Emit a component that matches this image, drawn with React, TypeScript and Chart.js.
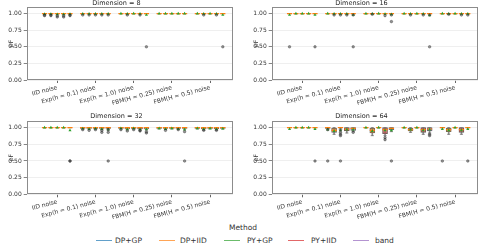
import React, { useEffect, useRef } from "react";
import { Chart, registerables } from "chart.js";
Chart.register(...registerables);

const categories = [
  "IID noise",
  "Exp(h = 0.1) noise",
  "Exp(h = 1.0) noise",
  "FBM(H = 0.25) noise",
  "FBM(H = 0.5) noise",
];
const methods = ["DP+GP", "DP+IID", "PY+GP", "PY+IID", "band"];
const methodColors = ["#1f77b4", "#ff7f0e", "#2ca02c", "#d62728", "#9467bd"];
const yTicks = [0, 0.25, 0.5, 0.75, 1.0];

// rows = methods, columns = categories
const ones = [
  [1, 1, 1, 1, 1],
  [1, 1, 1, 1, 1],
  [1, 1, 1, 1, 1],
  [1, 1, 1, 1, 1],
  [1, 1, 1, 1, 1],
];

// Dimension = 8
const dim8Mean = [
  [0.993, 0.997, 1, 1, 1],
  [0.993, 0.996, 0.997, 1, 0.997],
  [0.99, 0.997, 1, 1, 1],
  [0.99, 0.997, 0.997, 1, 0.997],
  [0.993, 0.997, 0.98, 1, 0.98],
];
const dim8Fliers = [
  [0, 0, 0.97], [0, 0, 0.98], [0, 1, 0.97], [0, 1, 0.98], [0, 2, 0.97], [0, 2, 0.95],
  [0, 3, 0.97], [0, 3, 0.95], [0, 4, 0.97], [0, 4, 0.98],
  [1, 0, 0.98], [1, 1, 0.98], [1, 2, 0.98], [1, 3, 0.98], [1, 4, 0.98],
  [2, 1, 0.98], [2, 3, 0.98], [2, 4, 0.5],
  [4, 1, 0.98], [4, 3, 0.98], [4, 4, 0.5],
];

// Dimension = 16
const dim16Mean = [
  [0.98, 1, 1, 1, 1],
  [1, 0.997, 0.997, 0.997, 0.998],
  [1, 0.997, 1, 1, 1],
  [1, 0.997, 0.995, 0.997, 0.997],
  [0.98, 0.98, 0.99, 0.975, 0.996],
];
const dim16Fliers = [
  [0, 0, 0.5], [0, 4, 0.5],
  [1, 1, 0.98], [1, 2, 0.98], [1, 3, 0.98], [1, 4, 0.98], [1, 4, 0.5],
  [2, 1, 0.99], [2, 3, 0.97], [2, 4, 0.98], [2, 4, 0.88],
  [3, 1, 0.98], [3, 3, 0.98], [3, 4, 0.98], [3, 4, 0.5],
  [4, 1, 0.99], [4, 3, 0.98], [4, 4, 0.98],
];

// Dimension = 32
const dim32Q1 = [
  [1, 0.99, 0.99, 0.99, 0.99],
  [1, 0.99, 0.98, 0.99, 0.98],
  [1, 0.99, 0.99, 0.99, 0.99],
  [1, 0.99, 0.98, 0.99, 0.98],
  [1, 0.99, 0.98, 0.99, 0.99],
];
const dim32Low = [
  [1, 0.98, 0.98, 0.98, 0.98],
  [1, 0.98, 0.97, 0.98, 0.96],
  [1, 0.98, 0.98, 0.98, 0.98],
  [1, 0.98, 0.97, 0.98, 0.96],
  [1, 0.98, 0.97, 0.98, 0.98],
];
const dim32Mean = [
  [1, 0.985, 0.99, 0.99, 0.99],
  [1, 0.98, 0.975, 0.98, 0.98],
  [1, 0.985, 0.99, 0.99, 0.99],
  [1, 0.98, 0.975, 0.98, 0.98],
  [0.96, 0.97, 0.975, 0.97, 0.985],
];
const dim32Fliers = [
  [0, 4, 0.5], [0, 4, 0.5],
  [1, 0, 0.97], [1, 1, 0.96], [1, 2, 0.97], [1, 3, 0.96], [1, 3, 0.93], [1, 4, 0.97], [1, 4, 0.93], [1, 4, 0.5],
  [2, 0, 0.97], [2, 1, 0.95], [2, 2, 0.97], [2, 3, 0.95], [2, 3, 0.96], [2, 4, 0.92], [2, 4, 0.94],
  [3, 1, 0.96], [3, 3, 0.97], [3, 4, 0.94], [3, 4, 0.5],
  [4, 1, 0.96], [4, 3, 0.96],
];

// Dimension = 64
const dim64Q1 = [
  [1, 0.99, 1, 1, 1],
  [1, 0.93, 0.92, 0.95, 0.94],
  [1, 1, 1, 1, 1],
  [1, 0.95, 0.91, 0.93, 0.93],
  [1, 0.96, 0.97, 0.95, 1],
];
const dim64Med = [
  [1, 1, 1, 1, 1],
  [1, 0.96, 0.96, 0.97, 0.97],
  [1, 1, 1, 1, 1],
  [1, 0.98, 0.97, 0.97, 0.97],
  [1, 0.99, 0.99, 0.98, 1],
];
const dim64Q3 = [
  [1, 1, 1, 1, 1],
  [1, 0.99, 0.99, 0.99, 0.99],
  [1, 1, 1, 1, 1],
  [1, 1, 1, 1, 1],
  [1, 1, 1, 1, 1],
];
const dim64Low = [
  [1, 0.98, 1, 1, 1],
  [1, 0.9, 0.88, 0.93, 0.9],
  [1, 1, 1, 1, 1],
  [1, 0.92, 0.88, 0.9, 0.9],
  [1, 0.94, 0.94, 0.92, 1],
];
const dim64Mean = [
  [0.98, 0.97, 1, 1, 0.98],
  [1, 0.95, 0.95, 0.97, 0.96],
  [1, 0.96, 1, 1, 1],
  [1, 0.97, 0.96, 0.96, 0.96],
  [0.98, 0.97, 0.96, 0.97, 0.98],
];
const dim64Fliers = [
  [0, 4, 0.5],
  [1, 0, 0.5], [1, 0, 0.97], [1, 2, 0.5], [1, 2, 0.97], [1, 2, 0.93], [1, 2, 0.9], [1, 2, 0.88], [1, 4, 0.93],
  [2, 3, 0.85], [2, 3, 0.82], [2, 4, 0.5],
  [3, 4, 0.9], [3, 4, 0.88],
  [4, 0, 0.5], [4, 4, 0.5],
];

const panels = [
  { title: "Dimension = 8", q1: ones, med: ones, q3: ones, lo: ones, hi: ones, mean: dim8Mean, fliers: dim8Fliers },
  { title: "Dimension = 16", q1: ones, med: ones, q3: ones, lo: ones, hi: ones, mean: dim16Mean, fliers: dim16Fliers },
  { title: "Dimension = 32", q1: dim32Q1, med: ones, q3: ones, lo: dim32Low, hi: ones, mean: dim32Mean, fliers: dim32Fliers },
  { title: "Dimension = 64", q1: dim64Q1, med: dim64Med, q3: dim64Q3, lo: dim64Low, hi: ones, mean: dim64Mean, fliers: dim64Fliers },
];

const FONT = "DejaVu Sans";

function hexA(hex: string, a: number) {
  const n = parseInt(hex.slice(1), 16);
  return `rgba(${(n >> 16) & 255},${(n >> 8) & 255},${n & 255},${a})`;
}

const off = (m: number) => (m - 2) / 6;

function buildDatasets(p: any) {
  const ds: any[] = [];
  methods.forEach((name, m) => {
    const xs = categories.map((_, c) => c + off(m));
    ds.push({
      type: "bar",
      label: name + " whisker",
      data: xs.map((x, c) => ({ x, y: [p.lo[m][c], p.hi[m][c]] })),
      backgroundColor: "#8a8a8a",
      barThickness: 1,
      grouped: false,
      order: 6,
    });
    ds.push({
      type: "bar",
      label: name,
      data: xs.map((x, c) => ({ x, y: [p.q1[m][c], p.q3[m][c]] })),
      backgroundColor: hexA(methodColors[m], 0.45),
      borderColor: "#666",
      borderWidth: 0.6,
      borderSkipped: false,
      barThickness: 5,
      grouped: false,
      order: 5,
    });
    ds.push({
      type: "scatter",
      label: name + " caps",
      data: xs.flatMap((x, c) => [{ x, y: p.lo[m][c] }, { x, y: p.hi[m][c] }]),
      pointStyle: "line",
      radius: 1.6,
      borderColor: "#777",
      borderWidth: 0.8,
      order: 4,
    });
    ds.push({
      type: "scatter",
      label: name + " median",
      data: xs.map((x, c) => ({ x, y: p.med[m][c] })),
      pointStyle: "line",
      radius: 2.6,
      borderColor: "#ff7f0e",
      borderWidth: 1.2,
      order: 3,
    });
    ds.push({
      type: "scatter",
      label: name + " mean",
      data: xs.map((x, c) => ({ x, y: p.mean[m][c] })),
      pointStyle: "triangle",
      radius: 1.8,
      backgroundColor: "#2ca02c",
      borderColor: "#2ca02c",
      borderWidth: 0,
      order: 2,
    });
  });
  ds.push({
    type: "scatter",
    label: "fliers",
    data: p.fliers.map(([c, m, v]: number[]) => ({ x: c + off(m), y: v })),
    pointStyle: "circle",
    radius: 1.3,
    backgroundColor: "rgba(60,60,60,0.55)",
    borderColor: "rgba(40,40,40,0.7)",
    borderWidth: 0.5,
    order: 1,
  });
  return ds;
}

const framePlugin = {
  id: "frame",
  afterDraw(chart: any) {
    const { ctx, chartArea } = chart;
    const { left, top, right, bottom } = chartArea;
    ctx.save();
    ctx.strokeStyle = "#8c8c8c";
    ctx.lineWidth = 1;
    ctx.strokeRect(Math.round(left) + 0.5, Math.round(top) + 0.5, Math.round(right - left) - 1, Math.round(bottom - top) - 1);
    ctx.restore();
  },
};

function Panel({ p, left, top, width, height, row }: any) {
  const ref = useRef<HTMLCanvasElement | null>(null);
  useEffect(() => {
    const areaTop = row === 0 ? 7 : 11;
    const areaBottom = row === 0 ? 80 : 84.3;
    const xH = height - areaBottom;
    const tickFont = { family: FONT, size: 6 };
    const chart = new Chart(ref.current as HTMLCanvasElement, {
      type: "bar",
      data: { datasets: buildDatasets(p) },
      options: {
        animation: false,
        responsive: false,
        devicePixelRatio: 1,
        layout: { padding: { left: 0, right: width - 233, top: 0, bottom: 0 } },
        plugins: {
          legend: { display: false },
          tooltip: { enabled: false },
          title: {
            display: true,
            text: p.title,
            color: "#262626",
            font: { family: FONT, size: 6.5, weight: "normal" },
            padding: row === 0 ? { top: areaTop - 7.8, bottom: 0 } : { top: 2.2, bottom: areaTop - 7.8 - 2.2 },
          },
        },
        scales: {
          x: {
            type: "linear",
            min: -0.8,
            max: 4.6,
            offset: false,
            border: { display: false },
            grid: { drawOnChartArea: false, drawTicks: true, tickLength: 3, tickColor: "#666", offset: false },
            ticks: {
              autoSkip: false,
              minRotation: 15,
              maxRotation: 15,
              padding: 1,
              color: "#333",
              font: tickFont,
              callback: (v: any) => categories[v] ?? "",
            },
            afterBuildTicks: (s: any) => {
              s.ticks = categories.map((_, i) => ({ value: i }));
            },
            afterFit: (s: any) => {
              s.height = xH;
              s.paddingLeft = 0;
              s.paddingRight = 0;
            },
          },
          y: {
            type: "linear",
            min: 0,
            max: 1.1,
            border: { display: false },
            grid: { color: "#ebebeb", lineWidth: 0.8, tickLength: 3, tickColor: "#666" },
            ticks: {
              padding: 2,
              color: "#333",
              font: tickFont,
              callback: (v: any) => Number(v).toFixed(2),
            },
            title: { display: true, text: "pF", color: "#333", font: tickFont, padding: { top: 8, bottom: 0 } },
            afterBuildTicks: (s: any) => {
              s.ticks = yTicks.map((v) => ({ value: v }));
            },
            afterFit: (s: any) => {
              s.width = 26.7;
              s.paddingTop = 0;
              s.paddingBottom = 0;
            },
          },
        },
      } as any,
      plugins: [framePlugin],
    });
    return () => chart.destroy();
  }, []);
  return (
    <canvas
      ref={ref}
      width={width}
      height={height}
      style={{ position: "absolute", left, top, width, height }}
    />
  );
}

const legendLineX = [96, 159, 224, 288, 353];
const legendTextX = [115, 180, 247, 311, 375];

export default function App() {
  return (
    <div
      style={{
        position: "fixed",
        left: 0,
        top: 0,
        width: 489,
        height: 247,
        background: "#fff",
        overflow: "hidden",
        fontFamily: FONT,
      }}
    >
      <Panel p={panels[0]} left={0} top={0} width={245} height={110} row={0} />
      <Panel p={panels[1]} left={245} top={0} width={244} height={110} row={0} />
      <Panel p={panels[2]} left={0} top={110} width={245} height={110} row={1} />
      <Panel p={panels[3]} left={245} top={110} width={244} height={110} row={1} />
      <div
        style={{
          position: "absolute",
          left: 193,
          width: 100,
          top: 223,
          textAlign: "center",
          fontSize: 7.5,
          lineHeight: "9px",
          color: "#333",
        }}
      >
        Method
      </div>
      {methods.map((m, i) => (
        <React.Fragment key={m}>
          <div
            style={{
              position: "absolute",
              left: legendLineX[i],
              top: 239.5,
              width: 16,
              height: 1.4,
              background: hexA(methodColors[i], 0.7),
            }}
          />
          <div
            style={{
              position: "absolute",
              left: legendTextX[i],
              top: 235.5,
              fontSize: 7.5,
              lineHeight: "9px",
              color: "#333",
              whiteSpace: "nowrap",
            }}
          >
            {m}
          </div>
        </React.Fragment>
      ))}
    </div>
  );
}
